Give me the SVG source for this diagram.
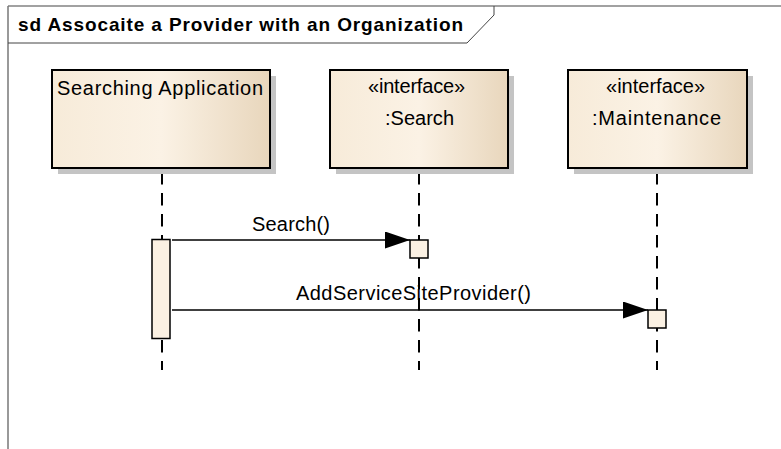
<svg xmlns="http://www.w3.org/2000/svg" width="781" height="449" viewBox="0 0 781 449">
<style>
.t{font-family:"Liberation Sans",Arial,sans-serif;font-size:20px;fill:#000}
.title{font-family:"Liberation Sans",Arial,sans-serif;font-size:19px;font-weight:bold;fill:#000}
.box{fill:url(#g);stroke:#000;stroke-width:2}
.sh{fill:#c4c4c4}
.life{stroke:#000;stroke-width:2;stroke-dasharray:12.5 8.5;fill:none}
.act{fill:#fbf1e3;stroke:#000;stroke-width:1.5}
.msg{stroke:#000;stroke-width:1.5;fill:none}
</style>
<defs>
<linearGradient id="g" x1="0" y1="0" x2="1" y2="0">
<stop offset="0" stop-color="#f7ebd9"/>
<stop offset="0.5" stop-color="#fbf2e5"/>
<stop offset="1" stop-color="#e8d6bc"/>
</linearGradient>
<marker id="arr" markerWidth="26" markerHeight="18" refX="25" refY="8.5" orient="auto" markerUnits="userSpaceOnUse">
<path d="M0,0 L25,8.5 L0,17 Z" fill="#000"/>
</marker>
</defs>
<rect width="781" height="449" fill="#fff"/>
<g id="frame">
<line x1="8" y1="6" x2="781" y2="6" stroke="#444" stroke-width="1.2"/>
<line x1="8" y1="6" x2="8" y2="449" stroke="#777" stroke-width="1.5"/>
<path d="M8,43 H467 L494,15 V6" fill="none" stroke="#444" stroke-width="1"/>
<text class="title" x="18" y="31" textLength="445" lengthAdjust="spacing">sd Assocaite a Provider with an Organization</text>
</g>
<g id="lifelines">
<line class="life" x1="162" y1="172" x2="162" y2="370"/>
<line class="life" x1="419" y1="172" x2="419" y2="370"/>
<line class="life" x1="657" y1="172" x2="657" y2="370"/>
<line x1="162" y1="168" x2="162" y2="172" stroke="#000" stroke-width="2"/>
<line x1="419" y1="168" x2="419" y2="172" stroke="#000" stroke-width="2"/>
<line x1="657" y1="168" x2="657" y2="172" stroke="#000" stroke-width="2"/>
</g>
<g id="n1">
<rect class="sh" x="58" y="76" width="218" height="98"/>
<rect class="box" x="52" y="70" width="218" height="98"/>
<text class="t" x="57" y="95" textLength="206" lengthAdjust="spacing">Searching Application</text>
</g>
<g id="n2">
<rect class="sh" x="336" y="76" width="178" height="98"/>
<rect class="box" x="330" y="70" width="178" height="98"/>
<text class="t" x="368" y="93" textLength="97" lengthAdjust="spacing">«interface»</text>
<text class="t" x="385" y="125" textLength="69" lengthAdjust="spacing">:Search</text>
</g>
<g id="n3">
<rect class="sh" x="574" y="76" width="179" height="98"/>
<rect class="box" x="568" y="70" width="179" height="98"/>
<text class="t" x="606" y="93" textLength="99" lengthAdjust="spacing">«interface»</text>
<text class="t" x="592" y="125" textLength="129" lengthAdjust="spacing">:Maintenance</text>
</g>
<g id="activations">
<rect class="act" x="152" y="239.5" width="18" height="99"/>
<rect class="act" x="410" y="240" width="18" height="18"/>
<rect class="act" x="648" y="310" width="18" height="18"/>
</g>
<g id="connectors">
<line class="msg" x1="172" y1="240" x2="410" y2="240" marker-end="url(#arr)"/>
<line class="msg" x1="172" y1="310" x2="648" y2="310" marker-end="url(#arr)"/>
<text class="t" x="252" y="231" textLength="78" lengthAdjust="spacing">Search()</text>
<text class="t" x="296" y="300" textLength="235" lengthAdjust="spacing">AddServiceSiteProvider()</text>
</g>
</svg>
